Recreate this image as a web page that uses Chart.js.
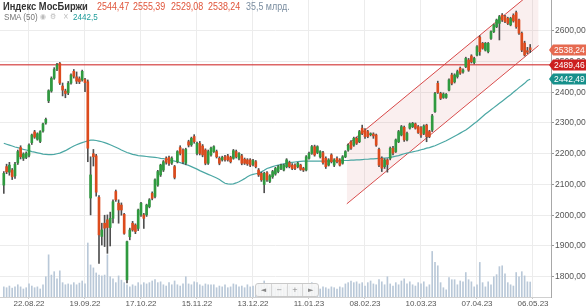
<!DOCTYPE html>
<html>
<head>
<meta charset="utf-8">
<script src="https://cdn.jsdelivr.net/npm/chart.js@4.4.1/dist/chart.umd.min.js"></script>
<style>
  html, body { margin: 0; padding: 0; background: #fff; }
  #wrap { position: relative; width: 586px; height: 308px; overflow: hidden;
          font-family: "Liberation Sans", Arial, sans-serif; }
  #wrap canvas { position: absolute; left: 0; top: 0; }
  .hdr { position: absolute; white-space: nowrap; line-height: 1; transform: scaleX(0.85); transform-origin: 0 0; }
  .title { font-weight: bold; font-size: 11px; color: #333; }
  .val { font-size: 10.5px; color: #e0553b; }
  .vol { font-size: 10.5px; color: #7b8ea1; }
  .sub { font-size: 9.5px; color: #777; }
  .ico { font-size: 8px; color: #bbb; font-family: "DejaVu Sans", sans-serif; }
  .smaVal { font-size: 9.5px; color: #1f9c9a; }
  #zoomBar { position: absolute; left: 255px; top: 283px; width: 62px; height: 12px;
             border: 1px solid #c9c9c9; border-radius: 3px; background: rgba(246,246,246,0.9);
             display: flex; font-family: "DejaVu Sans", sans-serif; font-size: 7px; color: #888; }
  #zoomBar span { flex: 1; text-align: center; line-height: 12px; border-left: 1px solid #d6d6d6; }
  #zoomBar span:first-child { border-left: none; }
</style>
</head>
<body>
<div id="wrap">
  <canvas id="chart" width="586" height="308"></canvas>

  <div class="hdr title" style="left:3px;top:1px">Индекс МосБиржи</div>
  <div class="hdr val" style="left:97px;top:1px">2544,47</div>
  <div class="hdr val" style="left:133px;top:1px">2555,39</div>
  <div class="hdr val" style="left:171px;top:1px">2529,08</div>
  <div class="hdr val" style="left:208px;top:1px">2538,24</div>
  <div class="hdr vol" style="left:246px;top:1px">35,5 млрд.</div>
  <div class="hdr sub" style="left:4px;top:12px">SMA (50)</div>
  <div class="hdr ico" style="left:40px;top:13px">◉</div>
  <div class="hdr ico" style="left:50px;top:13px">⚙</div>
  <div class="hdr ico" style="left:63px;top:13px">×</div>
  <div class="hdr smaVal" style="left:73px;top:12px">2442,5</div>

  <div id="zoomBar"><span>◄</span><span>−</span><span>+</span><span>►</span></div>
</div>

<script>
// ═══════════ DATA ═══════════
const dateLabels = ['22.08.22', '19.09.22', '17.10.22', '15.11.22', '13.12.22',
                    '11.01.23', '08.02.23', '10.03.23', '07.04.23', '06.05.23'];
const dateIndex = [9, 29, 49, 69, 89, 109, 129, 149, 169, 189];
const priceTicks = [1800, 1900, 2000, 2100, 2200, 2300, 2400, 2500, 2600];

const opens = [
  2098,2158,2140,2147,2128,2170,2220,2185,2188,2195,
  2236,2271,2247,2240,2274,2300,2372,2404,2446,2475,
  2494,2420,2404,2398,2430,2468,2450,2444,2440,2441,
  2434,2056,2200,2193,2058,1931,1974,1985,1960,1990,
  2077,2039,2033,2003,1790,1930,1974,1968,1957,2001,
  2001,2001,2028,2071,2061,2098,2131,2147,2185,2188,
  2170,2158,2174,2220,2212,2169,2239,2229,2256,2201,
  2234,2225,2212,2169,2196,2207,2207,2185,2180,2190,
  2193,2188,2185,2207,2185,2193,2182,2180,2180,2165,
  2174,2147,2136,2100,2138,2110,2125,2134,2142,2152,
  2147,2158,2171,2163,2163,2158,2163,2152,2147,2185,
  2201,2223,2204,2190,2203,2185,2163,2196,2163,2185,
  2180,2169,2190,2212,2239,2228,2250,2239,2283,2277,
  2272,2262,2264,2261,2214,2185,2158,2180,2185,2218,
  2207,2239,2261,2286,2245,2283,2288,2297,2288,2285,
  2266,2293,2272,2277,2337,2429,2396,2383,2383,2407,
  2456,2434,2451,2478,2466,2483,2505,2518,2496,2521,
  2579,2559,2537,2532,2575,2597,2613,2624,2651,2646,
  2640,2619,2650,2659,2635,2592,2560,2535,2544.47
];
const highs = [
  2142,2166,2172,2152,2172,2212,2226,2203,2206,2232,
  2264,2276,2268,2275,2300,2316,2408,2450,2480,2494,
  2497,2430,2410,2435,2460,2474,2466,2450,2472,2445,
  2440,2190,2214,2198,2064,1974,2000,2001,2010,2050,
  2082,2050,2040,2006,1916,1958,1980,1972,2020,2042,
  2006,2036,2054,2076,2118,2146,2166,2178,2190,2192,
  2190,2162,2210,2226,2216,2218,2244,2254,2262,2238,
  2240,2230,2216,2212,2222,2226,2212,2190,2192,2195,
  2198,2192,2214,2212,2204,2198,2186,2184,2184,2182,
  2178,2152,2140,2140,2142,2132,2146,2156,2162,2166,
  2166,2184,2176,2168,2167,2172,2166,2156,2194,2205,
  2227,2228,2226,2210,2208,2190,2184,2200,2184,2190,
  2184,2194,2210,2232,2243,2254,2254,2276,2293,2282,
  2276,2268,2268,2264,2218,2190,2184,2184,2222,2224,
  2248,2276,2292,2290,2270,2300,2302,2300,2292,2288,
  2294,2296,2276,2328,2400,2436,2400,2398,2396,2444,
  2462,2460,2472,2482,2476,2514,2510,2522,2514,2552,
  2584,2562,2562,2562,2600,2622,2638,2650,2656,2650,
  2644,2644,2655,2664,2638,2596,2566,2546,2555.39
];
const lows = [
  2071,2135,2130,2116,2120,2165,2183,2178,2184,2190,
  2230,2250,2244,2236,2270,2296,2366,2400,2442,2470,
  2425,2388,2382,2392,2426,2446,2428,2428,2436,2402,
  2174,2001,2160,2062,1843,1903,1898,1876,1900,1975,
  2045,1974,2000,1938,1780,1920,1948,1940,1950,1996,
  1957,1996,2024,2050,2056,2094,2126,2142,2166,2162,
  2165,2118,2170,2196,2168,2164,2222,2224,2234,2196,
  2196,2190,2164,2165,2192,2204,2186,2164,2176,2176,
  2176,2170,2182,2186,2180,2164,2165,2162,2158,2160,
  2154,2126,2110,2073,2110,2106,2120,2130,2138,2148,
  2144,2154,2154,2148,2148,2154,2146,2142,2144,2182,
  2198,2192,2200,2186,2166,2152,2160,2170,2158,2170,
  2160,2166,2187,2208,2214,2224,2230,2236,2262,2250,
  2252,2258,2250,2224,2158,2142,2152,2140,2180,2196,
  2204,2236,2258,2240,2242,2280,2285,2280,2266,2253,
  2262,2239,2252,2272,2334,2396,2376,2380,2380,2404,
  2424,2430,2446,2458,2462,2480,2468,2495,2492,2518,
  2520,2540,2534,2528,2572,2594,2610,2570,2630,2626,
  2620,2616,2628,2608,2588,2532,2518,2525,2529.08
];
const closes = [
  2136,2141,2163,2125,2166,2207,2190,2199,2201,2228,
  2261,2254,2265,2272,2297,2312,2405,2445,2474,2489,
  2430,2407,2396,2429,2456,2452,2436,2434,2468,2431,
  2218,2131,2190,2075,1936,1952,1958,1960,1990,2044,
  2050,2017,2017,1941,1914,1952,1952,1947,2017,2039,
  1990,2033,2050,2055,2115,2142,2163,2174,2172,2168,
  2185,2123,2207,2201,2174,2214,2228,2250,2239,2234,
  2201,2196,2169,2207,2218,2223,2190,2169,2188,2180,
  2180,2174,2210,2190,2201,2169,2169,2167,2163,2178,
  2158,2131,2115,2136,2115,2128,2142,2152,2158,2163,
  2163,2180,2158,2152,2152,2169,2149,2147,2190,2201,
  2223,2196,2223,2207,2171,2158,2180,2174,2180,2174,
  2163,2190,2207,2228,2218,2250,2234,2272,2266,2256,
  2256,2265,2258,2228,2163,2153,2180,2165,2218,2202,
  2245,2272,2288,2245,2266,2297,2299,2283,2269,2261,
  2290,2256,2256,2323,2396,2399,2380,2394,2393,2440,
  2429,2456,2467,2462,2472,2510,2472,2499,2510,2548,
  2532,2543,2559,2559,2597,2619,2635,2646,2635,2630,
  2624,2640,2632,2613,2592,2537,2521,2530,2538.24
];
// turnover, bln RUB
const volumes = [
  24,22,26,21,24,29,24,19,22,31,
  26,22,24,19,29,48,100,52,60,43,
  62,34,29,31,29,34,29,33,38,31,
  128,76,69,57,52,50,52,100,48,43,
  34,50,40,34,29,24,29,26,34,29,
  34,31,34,38,41,34,36,29,26,34,
  29,38,29,26,31,48,31,29,36,34,
  29,26,31,29,29,29,22,26,24,29,
  22,24,31,29,24,26,22,29,24,26,
  24,31,29,38,29,24,26,22,24,29,
  22,24,26,24,22,22,24,22,24,29,
  34,24,22,19,24,22,19,24,22,19,
  24,22,31,34,38,34,36,31,34,26,
  34,38,31,29,41,36,29,48,31,26,
  34,29,38,43,31,36,29,26,34,31,
  36,24,29,108,82,74,34,22,17,46,
  41,41,29,38,36,58,41,36,24,29,
  82,34,24,36,29,48,53,72,74,55,
  34,29,26,58,48,60,50,36,35.5
];
const sma50 = [
  2234,2231,2228,2225,2222,2220,2217,2214,2212,2210,
  2207,2205,2203,2201,2199,2198,2197,2197,2198,2200,
  2202,2206,2210,2215,2220,2225,2229,2233,2236,2239,
  2242,2244,2244,2243,2241,2239,2236,2233,2229,2225,
  2221,2217,2212,2208,2204,2201,2198,2196,2194,2193,
  2192,2191,2190,2189,2188,2187,2185,2184,2182,2180,
  2178,2176,2174,2171,2168,2165,2162,2158,2154,2150,
  2145,2141,2137,2133,2129,2125,2121,2116,2110,2104,
  2102,2101,2102,2105,2109,2114,2119,2125,2130,2133,
  2135,2137,2141,2146,2152,2155,2158,2161,2163,2165,
  2167,2169,2171,2172,2173,2174,2175,2176,2176,2176,
  2176,2176,2176,2176,2176,2176,2176,2177,2177,2177,
  2177,2178,2178,2178,2179,2179,2180,2180,2181,2182,
  2182,2183,2183,2184,2185,2186,2186,2187,2188,2190,
  2192,2194,2197,2200,2202,2204,2206,2208,2210,2213,
  2215,2218,2220,2223,2226,2230,2234,2238,2242,2247,
  2252,2257,2262,2267,2272,2277,2284,2291,2298,2305,
  2313,2321,2329,2336,2343,2350,2357,2364,2371,2378,
  2385,2392,2400,2407,2415,2422,2429,2438,2442.49
];

const levelPrice = 2489.46;
const channelX = [122.5, 191];
const channelUpper = [2228, 2743];
const channelLower = [2037, 2552];

const tagValues = [2538.24, 2489.46, 2442.49];
const tagColors = ['#e66a50', '#cc2020', '#17908b'];

// ═══════════ BUILD ═══════════
const UP = '#2f9a3f', DOWN = '#dc4b1d', WICK = '#4f4f4f';
const idx = closes.map((_, i) => i);
const fmt = v => v.toFixed(2).replace('.', ',');

const bodyData = idx.map(i => ({ x: i, y: [opens[i], closes[i]] }));
const wickData = idx.map(i => ({ x: i, y: [lows[i], highs[i]] }));
const bodyColors = idx.map(i => closes[i] >= opens[i] ? UP : DOWN);
const volData = idx.map(i => ({ x: i, y: volumes[i] }));
const smaData = idx.map(i => ({ x: i, y: sma50[i] }));
const levelData = [{ x: -5, y: levelPrice }, { x: 200, y: levelPrice }];
const upperData = channelX.map((x, k) => ({ x, y: channelUpper[k] }));
const lowerData = channelX.map((x, k) => ({ x, y: channelLower[k] }));

const priceTags = {
    id: 'priceTags',
    afterDraw(chart) {
        const ctx = chart.ctx;
        const y = chart.scales.y;
        ctx.save();
        tagValues.forEach((v, k) => {
            const py = Math.round(y.getPixelForValue(v));
            ctx.fillStyle = tagColors[k];
            ctx.beginPath();
            ctx.moveTo(549, py);
            ctx.lineTo(553, py - 5.5);
            ctx.lineTo(586, py - 5.5);
            ctx.lineTo(586, py + 5.5);
            ctx.lineTo(553, py + 5.5);
            ctx.closePath();
            ctx.fill();
            ctx.fillStyle = '#fff';
            ctx.font = '8.5px "Liberation Sans", Arial';
            ctx.textBaseline = 'middle';
            ctx.fillText(fmt(v), 554, py + 0.5);
        });
        ctx.restore();
    }
};

new Chart(document.getElementById('chart'), {
    type: 'bar',
    data: {
        datasets: [
            { type: 'bar', label: 'body', data: bodyData, backgroundColor: bodyColors,
              barThickness: 2, minBarLength: 1, grouped: false, order: 0 },
            { type: 'bar', label: 'wick', data: wickData, backgroundColor: WICK,
              barThickness: 1, grouped: false, order: 1 },
            { type: 'line', label: 'SMA (50)', data: smaData, borderColor: '#4ba7a4',
              borderWidth: 1.2, pointRadius: 0, order: 2 },
            { type: 'line', label: 'level', data: levelData, borderColor: 'rgba(212,64,64,0.8)',
              borderWidth: 1.5, pointRadius: 0, order: 3 },
            { type: 'line', label: 'upper', data: upperData, borderColor: '#d84848',
              borderWidth: 1, pointRadius: 0, fill: '+1', backgroundColor: 'rgba(222,150,150,0.15)', order: 4 },
            { type: 'line', label: 'lower', data: lowerData, borderColor: '#d84848',
              borderWidth: 1, pointRadius: 0, fill: false, order: 5 },
            { type: 'bar', label: 'volume', data: volData, backgroundColor: '#b9c8d8',
              barThickness: 1, grouped: false, yAxisID: 'yv', order: 6 }
        ]
    },
    options: {
        responsive: false,
        animation: false,
        devicePixelRatio: 1,
        layout: { padding: 0 },
        plugins: { legend: { display: false }, tooltip: { enabled: false } },
        scales: {
            x: {
                type: 'linear',
                min: -1.357,
                max: 195.43,
                offset: false,
                grid: { color: '#ececec', offset: false, tickLength: 2, tickColor: '#c8c8c8' },
                border: { color: '#d0d0d0' },
                ticks: {
                    font: { family: '"Liberation Sans", Arial', size: 8 }, color: '#555',
                    padding: 0, maxRotation: 0, autoSkip: false,
                    callback: v => dateLabels[dateIndex.indexOf(v)] || ''
                },
                afterBuildTicks: s => { s.ticks = dateIndex.map(v => ({ value: v })); },
                afterFit: s => { s.height = 11; s.paddingLeft = 0; s.paddingRight = 0; }
            },
            y: {
                position: 'right',
                min: 1734,
                max: 2700,
                grid: { color: '#ececec', tickLength: 3, tickColor: '#999' },
                border: { color: '#a8a8a8' },
                ticks: {
                    font: { family: '"Liberation Sans", Arial', size: 8.5 }, color: '#555',
                    padding: 1, callback: v => fmt(v)
                },
                afterBuildTicks: s => { s.ticks = priceTicks.map(v => ({ value: v })); },
                afterFit: s => { s.width = 35; s.paddingTop = 0; s.paddingBottom = 0; }
            },
            yv: { display: false, min: 0, max: 704 }
        }
    },
    plugins: [priceTags]
});
</script>
</body>
</html>
